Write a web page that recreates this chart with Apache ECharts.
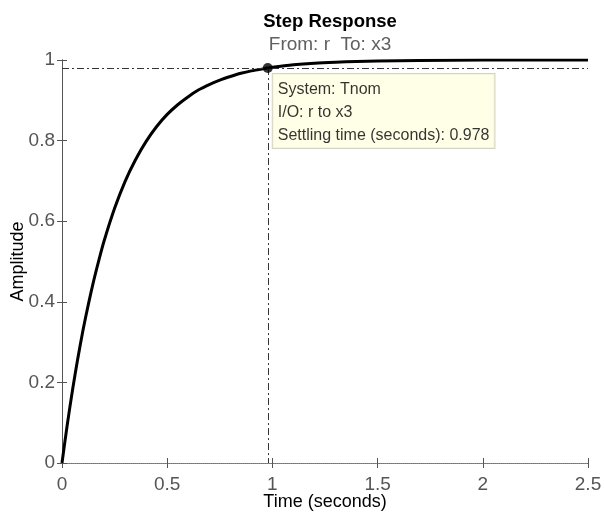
<!DOCTYPE html>
<html>
<head>
<meta charset="utf-8">
<script src="https://cdn.jsdelivr.net/npm/echarts@6/dist/echarts.min.js"></script>
<style>
html, body { margin: 0; padding: 0; background: #fff; }
#chart { width: 605px; height: 512px; }
</style>
</head>
<body>
<div id="chart"></div>
<script>
// step response
var times = [0, 0.025, 0.05, 0.075, 0.1, 0.125, 0.15, 0.175, 0.2, 0.25, 0.3, 0.35, 0.4, 0.45, 0.5, 0.55, 0.6, 0.65, 0.7, 0.75, 0.8, 0.85, 0.9, 0.978, 1.0, 1.1, 1.2, 1.3, 1.4, 1.5, 1.7, 2.0, 2.5];
var amplitude = [0, 0.095, 0.181, 0.259, 0.330, 0.393, 0.451, 0.503, 0.551, 0.632, 0.699, 0.753, 0.798, 0.835, 0.865, 0.889, 0.909, 0.926, 0.939, 0.950, 0.959, 0.967, 0.973, 0.98, 0.982, 0.988, 0.992, 0.9945, 0.9963, 0.9975, 0.9989, 0.9997, 1.0];
var settlingTime = 0.978;
var settlingLevel = 0.98;
var xTicks = [0, 0.5, 1, 1.5, 2, 2.5];
var yTicks = [0, 0.2, 0.4, 0.6, 0.8, 1];

var dom = document.getElementById("chart");
var myChart = echarts.init(dom);
var font = 'Arial, "Liberation Sans", sans-serif';
var axisGray = '#555';

var curve = [];
for (var i = 0; i < times.length; i++) {
    curve.push([times[i], amplitude[i]]);
}

var option = {
    animation: false,
    title: {
        text: 'Step Response',
        subtext: 'From: r  To: x3',
        left: 325,
        textAlign: 'center',
        top: 7,
        itemGap: 4,
        textStyle: { fontFamily: font, fontSize: 18.5, fontWeight: 'bold', color: '#000' },
        subtextStyle: { fontFamily: font, fontSize: 19, color: '#606060' }
    },
    grid: { left: 62, right: 17, top: 60, bottom: 49, outerBoundsMode: 'none', containLabel: false },
    xAxis: [{
        type: 'value',
        min: xTicks[0],
        max: xTicks[xTicks.length - 1],
        interval: 0.5,
        name: 'Time (seconds)',
        nameLocation: 'middle',
        nameGap: 30,
        nameMoveOverlap: false,
        nameTextStyle: { fontFamily: font, fontSize: 18, color: '#000' },
        axisLine: { show: true, lineStyle: { color: axisGray, width: 1 } },
        axisTick: { show: true, inside: true, length: 5, lineStyle: { color: axisGray } },
        axisLabel: { fontFamily: font, fontSize: 19, color: axisGray, margin: 12 },
        splitLine: { show: false }
    }, {
        type: 'value',
        position: 'top',
        min: xTicks[0],
        max: xTicks[xTicks.length - 1],
        interval: 0.5,
        axisLine: { show: true, lineStyle: { color: '#888', width: 1, type: 'dotted' } },
        axisTick: { show: true, inside: true, length: 5, lineStyle: { color: axisGray } },
        axisLabel: { show: false },
        splitLine: { show: false }
    }],
    yAxis: [{
        type: 'value',
        min: yTicks[0],
        max: yTicks[yTicks.length - 1],
        interval: 0.2,
        name: 'Amplitude',
        nameLocation: 'middle',
        nameGap: 35,
        nameMoveOverlap: false,
        nameTextStyle: { fontFamily: font, fontSize: 18, color: '#000' },
        axisLine: { show: true, lineStyle: { color: axisGray, width: 1 } },
        axisTick: { show: true, inside: true, length: 5, lineStyle: { color: axisGray } },
        axisLabel: {
            fontFamily: font, fontSize: 19, color: axisGray, margin: 7,
            formatter: function (v) { return String(Math.round(v * 10) / 10); }
        },
        splitLine: { show: false }
    }, {
        type: 'value',
        position: 'right',
        min: yTicks[0],
        max: yTicks[yTicks.length - 1],
        interval: 0.2,
        axisLine: { show: true, lineStyle: { color: axisGray, width: 1 } },
        axisTick: { show: true, inside: true, length: 5, lineStyle: { color: axisGray } },
        axisLabel: { show: false },
        splitLine: { show: false }
    }],
    series: [{
        name: 'Tnom',
        type: 'line',
        data: curve,
        showSymbol: false,
        smooth: 0.25,
        lineStyle: { color: '#000', width: 3 },
        markLine: {
            silent: true,
            symbol: 'none',
            label: { show: false },
            data: [
                [{ coord: [0, settlingLevel] }, { coord: [2.5, settlingLevel] }],
                [{ coord: [settlingTime, settlingLevel] }, { coord: [settlingTime, 0] }]
            ],
            lineStyle: { color: '#333', width: 1, type: [7, 3, 2, 3] }
        }
    }, {
        name: 'settling',
        type: 'scatter',
        data: [[settlingTime, settlingLevel]],
        symbolSize: 10,
        itemStyle: { color: '#000' },
        z: 5,
        label: {
            show: true,
            position: [10, 11],
            formatter: 'System: Tnom\nI/O: r to x3\nSettling time (seconds): ' + settlingTime,
            fontFamily: font,
            fontSize: 16,
            lineHeight: 23,
            color: '#000',
            backgroundColor: '#ffffe1',
            borderColor: '#c8c8b8',
            borderWidth: 1,
            padding: [4, 5, 1, 5]
        }
    }]
};

myChart.setOption(option, true);

window.onresize = function () {
    myChart.resize();
};
</script>
</body>
</html>
